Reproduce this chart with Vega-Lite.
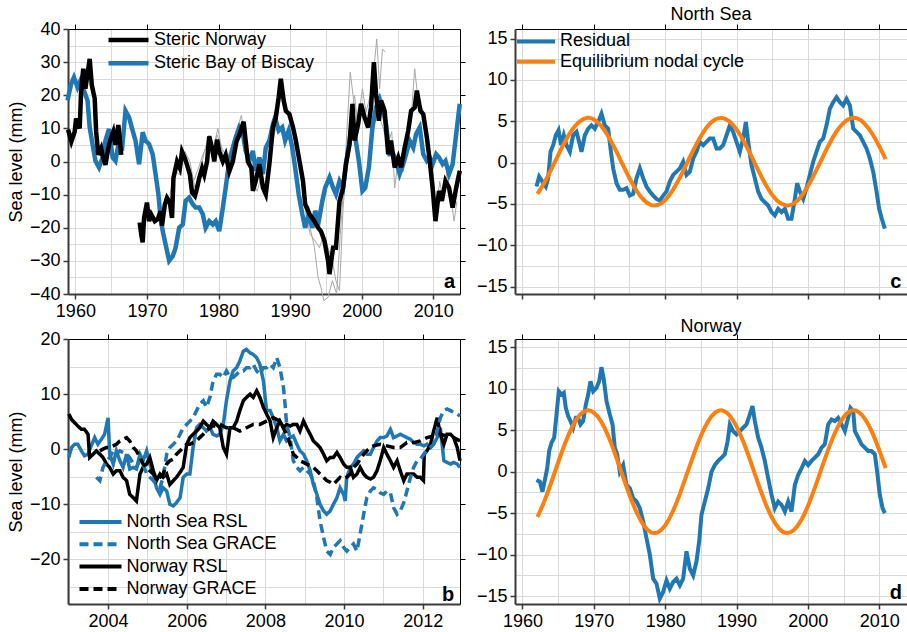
{
  "$schema": "https://vega.github.io/schema/vega-lite/v6.json",
  "padding": {"left": 7, "top": 5, "right": 0, "bottom": 0},
  "config": {
    "font": "Liberation Sans",
    "view": {"stroke": null},
    "axis": {
      "labelFont": "Liberation Sans", "labelFontSize": 18, "labelColor": "#000000",
      "titleFont": "Liberation Sans", "titleFontSize": 18, "titleFontWeight": "normal", "titleColor": "#000000",
      "gridColor": "#d9d9d9", "gridWidth": 1, "tickSize": 5, "labelFlush": false, "labelOverlap": false, "labelPadding": 3, "format": "d"
    },
    "title": {"font": "Liberation Sans", "fontSize": 18, "fontWeight": "normal", "color": "#000000", "offset": 0}
  },
  "concat": [
    {
      "width": 392, "height": 265,
      "layer": [
        {
          "data": {"name": "a_grey"},
          "mark": {"type": "line", "color": "#a8a8a8", "strokeWidth": 1},
          "encoding": {
            "x": {"field": "year", "type": "quantitative", "scale": {"domain": [1958.97, 2013.73], "nice": false, "zero": false},
              "axis": {"orient": "bottom", "values": [1960,1965,1970,1975,1980,1985,1990,1995,2000,2005,2010], "labelExpr": "datum.value % 10 === 0 ? datum.label : ''", "grid": true, "domainColor": "#3a3a3a", "domainWidth": 2, "tickColor": "#3a3a3a", "tickWidth": 1.5, "tickOpacity": {"condition": {"test": "datum.value % 10 !== 0", "value": 0}, "value": 1}, "title": null}},
            "y": {"field": "value", "type": "quantitative", "scale": {"domain": [-40, 40], "nice": false, "zero": false},
              "axis": {"orient": "left", "values": [-40,-35,-30,-25,-20,-15,-10,-5,0,5,10,15,20,25,30,35,40], "labelExpr": "datum.value % 10 === 0 ? datum.label : ''", "grid": true, "domainColor": "#3a3a3a", "domainWidth": 2, "tickColor": "#3a3a3a", "tickWidth": 1.5, "tickOpacity": {"condition": {"test": "datum.value % 10 !== 0", "value": 0}, "value": 1}, "title": "Sea level (mm)", "titlePadding": 4}},
            "detail": {"field": "id", "type": "nominal"}
          }
        },
        {
          "data": {"name": "a_main"},
          "mark": {"type": "line", "strokeWidth": 4.5},
          "encoding": {
            "x": {"field": "year", "type": "quantitative", "axis": {"orient": "top", "values": [1960,1970,1980,1990,2000,2010], "labels": false, "grid": false, "domainColor": "#000000", "domainWidth": 1, "tickColor": "#000000", "tickWidth": 1, "title": null}},
            "y": {"field": "value", "type": "quantitative", "axis": {"orient": "right", "values": [-30,-20,-10,0,10,20,30], "labels": false, "grid": false, "domainColor": "#000000", "domainWidth": 1, "tickColor": "#000000", "tickWidth": 1, "title": null}},
            "color": {"field": "series", "type": "nominal", "scale": {"domain": ["Steric Norway", "Steric Bay of Biscay"], "range": ["#000000", "#1f77b4"]},
              "legend": {"title": null, "orient": "none", "legendX": 38, "legendY": 0, "symbolType": "stroke", "symbolSize": 1600, "symbolStrokeWidth": 4.5, "labelFontSize": 18, "labelFont": "Liberation Sans", "labelColor": "#000000", "labelOffset": 3, "labelLimit": 400, "clipHeight": 22, "rowPadding": 1.3, "padding": 0}},
            "detail": {"field": "seg", "type": "nominal"}
          }
        },
        {
          "data": {"values": [{}]},
          "mark": {"type": "text", "text": "a", "fontWeight": "bold", "fontSize": 20, "align": "right", "baseline": "alphabetic", "color": "#000000"},
          "encoding": {"x": {"datum": 2013.05, "type": "quantitative", "axis": null}, "y": {"datum": -38.3, "type": "quantitative", "axis": null}}
        }
      ],
      "resolve": {"axis": {"x": "independent", "y": "independent"}}
    },
    {
      "width": 392, "height": 265,
      "title": {"text": "North Sea", "offset": 0},
      "layer": [
        {
          "data": {"name": "c_res"},
          "mark": {"type": "line", "strokeWidth": 4},
          "encoding": {
            "x": {"field": "year", "type": "quantitative", "scale": {"domain": [1958.95, 2013.9], "nice": false, "zero": false},
              "axis": {"orient": "bottom", "values": [1960,1965,1970,1975,1980,1985,1990,1995,2000,2005,2010], "labels": false, "grid": true, "domainColor": "#3a3a3a", "domainWidth": 2, "tickColor": "#3a3a3a", "tickWidth": 1.5, "tickOpacity": {"condition": {"test": "datum.value % 10 !== 0", "value": 0}, "value": 1}, "title": null}},
            "y": {"field": "value", "type": "quantitative", "scale": {"domain": [-15.9, 16.15], "nice": false, "zero": false},
              "axis": {"orient": "left", "values": [-15,-12.5,-10,-7.5,-5,-2.5,0,2.5,5,7.5,10,12.5,15], "labelExpr": "datum.value % 5 === 0 ? datum.label : ''", "grid": true, "domainColor": "#3a3a3a", "domainWidth": 2, "tickColor": "#3a3a3a", "tickWidth": 1.5, "tickOpacity": {"condition": {"test": "datum.value % 5 !== 0", "value": 0}, "value": 1}, "title": null}},
            "color": {"field": "series", "type": "nominal", "scale": {"domain": ["Residual", "Equilibrium nodal cycle"], "range": ["#1f77b4", "#ff7f0e"]},
              "legend": {"title": null, "orient": "none", "legendX": 0, "legendY": 2.4, "symbolType": "stroke", "symbolSize": 1444, "symbolStrokeWidth": 4, "labelFontSize": 18, "labelFont": "Liberation Sans", "labelColor": "#000000", "labelOffset": 3, "labelLimit": 400, "clipHeight": 20, "rowPadding": 0.3, "padding": 0}}
          }
        },
        {
          "data": {"name": "c_nod"},
          "mark": {"type": "line", "strokeWidth": 4, "interpolate": "natural"},
          "encoding": {
            "x": {"field": "year", "type": "quantitative", "axis": {"orient": "top", "values": [1960,1970,1980,1990,2000,2010], "labels": false, "grid": false, "domainColor": "#000000", "domainWidth": 1, "tickColor": "#000000", "tickWidth": 1, "title": null}},
            "y": {"field": "value", "type": "quantitative", "axis": {"orient": "right", "values": [-15,-10,-5,0,5,10,15], "labels": false, "grid": false, "domainColor": "#000000", "domainWidth": 1, "tickColor": "#000000", "tickWidth": 1, "title": null}},
            "color": {"field": "series", "type": "nominal"}
          }
        },
        {
          "data": {"values": [{}]},
          "mark": {"type": "text", "text": "c", "fontWeight": "bold", "fontSize": 20, "align": "right", "baseline": "alphabetic", "color": "#000000"},
          "encoding": {"x": {"datum": 2013.1, "type": "quantitative", "axis": null}, "y": {"datum": -15.15, "type": "quantitative", "axis": null}}
        }
      ],
      "resolve": {"axis": {"x": "independent", "y": "independent"}}
    },
    {
      "width": 392, "height": 265,
      "layer": [
        {
          "data": {"name": "b_rsl"},
          "mark": {"type": "line", "strokeWidth": 3.5},
          "encoding": {
            "x": {"field": "year", "type": "quantitative", "scale": {"domain": [2002.98, 2012.95], "nice": false, "zero": false},
              "axis": {"orient": "bottom", "values": [2003,2004,2005,2006,2007,2008,2009,2010,2011,2012], "labelExpr": "datum.value % 2 === 0 ? datum.label : ''", "grid": true, "domainColor": "#3a3a3a", "domainWidth": 2, "tickColor": "#3a3a3a", "tickWidth": 1.5, "tickOpacity": {"condition": {"test": "datum.value % 2 !== 0", "value": 0}, "value": 1}, "title": null}},
            "y": {"field": "value", "type": "quantitative", "scale": {"domain": [-28.1, 20], "nice": false, "zero": false},
              "axis": {"orient": "left", "values": [-25,-20,-15,-10,-5,0,5,10,15,20], "labelExpr": "datum.value % 10 === 0 ? datum.label : ''", "grid": true, "domainColor": "#3a3a3a", "domainWidth": 2, "tickColor": "#3a3a3a", "tickWidth": 1.5, "tickOpacity": {"condition": {"test": "datum.value % 10 !== 0", "value": 0}, "value": 1}, "title": "Sea level (mm)", "titlePadding": 4}},
            "color": {"field": "series", "type": "nominal", "scale": {"domain": ["North Sea RSL", "North Sea GRACE", "Norway RSL", "Norway GRACE"], "range": ["#1f77b4", "#1f77b4", "#000000", "#000000"]},
              "legend": {"title": null, "orient": "none", "legendX": 9.5, "legendY": 172, "symbolType": "stroke", "symbolSize": 1764, "symbolStrokeWidth": 4, "labelFontSize": 18, "labelFont": "Liberation Sans", "labelColor": "#000000", "labelOffset": 3, "labelLimit": 400, "clipHeight": 22, "rowPadding": 0.3, "padding": 0}},
            "strokeDash": {"field": "series", "type": "nominal", "scale": {"domain": ["North Sea RSL", "North Sea GRACE", "Norway RSL", "Norway GRACE"], "range": [[1, 0], [9, 5], [1, 0], [9, 5]]},
              "legend": {"title": null, "orient": "none", "legendX": 9.5, "legendY": 172, "symbolType": "stroke", "symbolSize": 1764, "symbolStrokeWidth": 4, "labelFontSize": 18, "labelFont": "Liberation Sans", "labelColor": "#000000", "labelOffset": 3, "labelLimit": 400, "clipHeight": 22, "rowPadding": 0.3, "padding": 0}}
          }
        },
        {
          "data": {"name": "b_grace"},
          "mark": {"type": "line", "strokeWidth": 3.5},
          "encoding": {
            "x": {"field": "year", "type": "quantitative", "axis": {"orient": "top", "values": [2004,2006,2008,2010,2012], "labels": false, "grid": false, "domainColor": "#000000", "domainWidth": 1, "tickColor": "#000000", "tickWidth": 1, "title": null}},
            "y": {"field": "value", "type": "quantitative", "axis": {"orient": "right", "values": [-20,-10,0,10,20], "labels": false, "grid": false, "domainColor": "#000000", "domainWidth": 1, "tickColor": "#000000", "tickWidth": 1, "title": null}},
            "color": {"field": "series", "type": "nominal"},
            "strokeDash": {"field": "series", "type": "nominal"}
          }
        },
        {
          "data": {"values": [{}]},
          "mark": {"type": "text", "text": "b", "fontWeight": "bold", "fontSize": 20, "align": "right", "baseline": "alphabetic", "color": "#000000"},
          "encoding": {"x": {"datum": 2012.8, "type": "quantitative", "axis": null}, "y": {"datum": -27.5, "type": "quantitative", "axis": null}}
        }
      ],
      "resolve": {"axis": {"x": "independent", "y": "independent"}}
    },
    {
      "width": 392, "height": 265,
      "title": {"text": "Norway", "offset": -2},
      "layer": [
        {
          "data": {"name": "d_res"},
          "mark": {"type": "line", "strokeWidth": 4},
          "encoding": {
            "x": {"field": "year", "type": "quantitative", "scale": {"domain": [1958.95, 2013.9], "nice": false, "zero": false},
              "axis": {"orient": "bottom", "values": [1960,1965,1970,1975,1980,1985,1990,1995,2000,2005,2010], "labelExpr": "datum.value % 10 === 0 ? datum.label : ''", "grid": true, "domainColor": "#3a3a3a", "domainWidth": 2, "tickColor": "#3a3a3a", "tickWidth": 1.5, "tickOpacity": {"condition": {"test": "datum.value % 10 !== 0", "value": 0}, "value": 1}, "title": null}},
            "y": {"field": "value", "type": "quantitative", "scale": {"domain": [-15.95, 16.0], "nice": false, "zero": false},
              "axis": {"orient": "left", "values": [-15,-12.5,-10,-7.5,-5,-2.5,0,2.5,5,7.5,10,12.5,15], "labelExpr": "datum.value % 5 === 0 ? datum.label : ''", "grid": true, "domainColor": "#3a3a3a", "domainWidth": 2, "tickColor": "#3a3a3a", "tickWidth": 1.5, "tickOpacity": {"condition": {"test": "datum.value % 5 !== 0", "value": 0}, "value": 1}, "title": null}},
            "color": {"field": "series", "type": "nominal", "scale": {"domain": ["Residual", "Equilibrium nodal cycle"], "range": ["#1f77b4", "#ff7f0e"]}, "legend": null}
          }
        },
        {
          "data": {"name": "d_nod"},
          "mark": {"type": "line", "strokeWidth": 4, "interpolate": "natural"},
          "encoding": {
            "x": {"field": "year", "type": "quantitative", "axis": {"orient": "top", "values": [1960,1970,1980,1990,2000,2010], "labels": false, "grid": false, "domainColor": "#000000", "domainWidth": 1, "tickColor": "#000000", "tickWidth": 1, "title": null}},
            "y": {"field": "value", "type": "quantitative", "axis": {"orient": "right", "values": [-15,-10,-5,0,5,10,15], "labels": false, "grid": false, "domainColor": "#000000", "domainWidth": 1, "tickColor": "#000000", "tickWidth": 1, "title": null}},
            "color": {"field": "series", "type": "nominal", "legend": null}
          }
        },
        {
          "data": {"values": [{}]},
          "mark": {"type": "text", "text": "d", "fontWeight": "bold", "fontSize": 20, "align": "right", "baseline": "alphabetic", "color": "#000000"},
          "encoding": {"x": {"datum": 2013.2, "type": "quantitative", "axis": null}, "y": {"datum": -15.3, "type": "quantitative", "axis": null}}
        }
      ],
      "resolve": {"axis": {"x": "independent", "y": "independent"}}
    }
  ],
  "columns": 2,
  "spacing": {"row": 45, "column": 55},
  "bounds": "flush",
  "resolve": {"scale": {"color": "independent", "strokeDash": "independent"}, "legend": {"color": "independent", "strokeDash": "independent"}},
  "datasets": {
    "a_grey": [
      {"year":1973.2,"value":-12,"id":"A"},{"year":1973.8,"value":-5,"id":"A"},{"year":1974.5,"value":-1,"id":"A"},{"year":1975.2,"value":2,"id":"A"},{"year":1975.8,"value":-3,"id":"A"},{"year":1976.5,"value":-6,"id":"A"},{"year":1977.2,"value":-2,"id":"A"},{"year":1977.8,"value":2,"id":"A"},{"year":1978.5,"value":5,"id":"A"},{"year":1979.2,"value":3,"id":"A"},{"year":1979.8,"value":8,"id":"A"},{"year":1980.5,"value":4,"id":"A"},{"year":1981.2,"value":1,"id":"A"},{"year":1981.8,"value":4,"id":"A"},{"year":1982.5,"value":9,"id":"A"},{"year":1983.2,"value":14,"id":"A"},{"year":1983.8,"value":5,"id":"A"},{"year":1984.5,"value":-2,"id":"A"},{"year":1985.2,"value":-6,"id":"A"},{"year":1985.8,"value":-2,"id":"A"},{"year":1986.5,"value":-9,"id":"A"},{"year":1987.2,"value":2,"id":"A"},{"year":1987.8,"value":12,"id":"A"},{"year":1988.5,"value":18,"id":"A"},{"year":1989.0,"value":22,"id":"A"},{"year":1989.5,"value":16,"id":"A"},{"year":1990.2,"value":12,"id":"A"},{"year":1990.8,"value":7,"id":"A"},{"year":1991.5,"value":-2,"id":"A"},{"year":1992.2,"value":-12,"id":"A"},{"year":1992.8,"value":-20,"id":"A"},{"year":1993.4,"value":-26,"id":"A"},{"year":1993.9,"value":-35,"id":"A"},{"year":1994.3,"value":-38,"id":"A"},{"year":1994.7,"value":-42,"id":"A"},{"year":1995.3,"value":-41,"id":"A"},{"year":1995.9,"value":-36,"id":"A"},{"year":1996.5,"value":-40,"id":"A"},{"year":1997.0,"value":-22,"id":"A"},{"year":1997.6,"value":-4,"id":"A"},{"year":1998.0,"value":12,"id":"A"},{"year":1998.4,"value":27,"id":"A"},{"year":1998.9,"value":18,"id":"A"},{"year":1999.5,"value":12,"id":"A"},{"year":2000.1,"value":22,"id":"A"},{"year":2000.6,"value":15,"id":"A"},{"year":2001.2,"value":20,"id":"A"},{"year":2001.7,"value":28,"id":"A"},{"year":2002.1,"value":37,"id":"A"},{"year":2002.5,"value":22,"id":"A"},{"year":2002.9,"value":34,"id":"A"},{"year":2003.3,"value":33,"id":"A"},
      {"year":1973.2,"value":-10,"id":"B"},{"year":1973.9,"value":-3,"id":"B"},{"year":1974.6,"value":-4,"id":"B"},{"year":1975.3,"value":3,"id":"B"},{"year":1976.0,"value":0,"id":"B"},{"year":1976.7,"value":-8,"id":"B"},{"year":1977.4,"value":-4,"id":"B"},{"year":1978.0,"value":3,"id":"B"},{"year":1978.7,"value":8,"id":"B"},{"year":1979.3,"value":4,"id":"B"},{"year":1979.9,"value":10,"id":"B"},{"year":1980.6,"value":2,"id":"B"},{"year":1981.3,"value":0,"id":"B"},{"year":1982.0,"value":6,"id":"B"},{"year":1982.7,"value":11,"id":"B"},{"year":1983.4,"value":10,"id":"B"},{"year":1984.0,"value":2,"id":"B"},{"year":1984.7,"value":-6,"id":"B"},{"year":1985.4,"value":-9,"id":"B"},{"year":1986.0,"value":-4,"id":"B"},{"year":1986.7,"value":-10,"id":"B"},{"year":1987.3,"value":4,"id":"B"},{"year":1988.0,"value":10,"id":"B"},{"year":1988.6,"value":25,"id":"B"},{"year":1989.2,"value":17,"id":"B"},{"year":1989.8,"value":13,"id":"B"},{"year":1990.4,"value":9,"id":"B"},{"year":1991.0,"value":4,"id":"B"},{"year":1991.6,"value":-6,"id":"B"},{"year":1992.2,"value":-16,"id":"B"},{"year":1992.8,"value":-22,"id":"B"},{"year":1993.5,"value":-24,"id":"B"},{"year":1994.1,"value":-26,"id":"B"},{"year":1994.7,"value":-22,"id":"B"},{"year":1995.3,"value":-26,"id":"B"},{"year":1995.9,"value":-30,"id":"B"},{"year":1996.4,"value":-36,"id":"B"},{"year":1996.9,"value":-39,"id":"B"},{"year":1997.4,"value":-14,"id":"B"},{"year":1998.0,"value":3,"id":"B"},{"year":1998.5,"value":14,"id":"B"},{"year":1999.0,"value":20,"id":"B"},{"year":1999.5,"value":10,"id":"B"},{"year":2000.0,"value":16,"id":"B"},{"year":2000.6,"value":12,"id":"B"},{"year":2001.2,"value":14,"id":"B"},{"year":2001.8,"value":26,"id":"B"},{"year":2002.4,"value":14,"id":"B"},{"year":2003.0,"value":10,"id":"B"},{"year":2003.6,"value":5,"id":"B"},{"year":2004.2,"value":9,"id":"B"},{"year":2004.6,"value":-8,"id":"B"},{"year":2005.2,"value":2,"id":"B"},{"year":2005.8,"value":-3,"id":"B"},{"year":2006.4,"value":8,"id":"B"},{"year":2007.0,"value":16,"id":"B"},{"year":2007.4,"value":28,"id":"B"},{"year":2007.9,"value":18,"id":"B"},{"year":2008.5,"value":16,"id":"B"},{"year":2009.0,"value":8,"id":"B"},{"year":2009.5,"value":2,"id":"B"},{"year":2010.0,"value":-4,"id":"B"},{"year":2010.4,"value":-14,"id":"B"},{"year":2010.9,"value":-6,"id":"B"},{"year":2011.4,"value":-12,"id":"B"},{"year":2011.9,"value":-3,"id":"B"},{"year":2012.4,"value":-10,"id":"B"},{"year":2012.9,"value":-18,"id":"B"},{"year":2013.3,"value":-12,"id":"B"}
    ],
    "a_main": [
      {"year":1958.9,"value":18.4,"series":"Steric Bay of Biscay","seg":1},{"year":1959.4,"value":23.4,"series":"Steric Bay of Biscay","seg":1},{"year":1959.8,"value":25.4,"series":"Steric Bay of Biscay","seg":1},{"year":1960.3,"value":22.4,"series":"Steric Bay of Biscay","seg":1},{"year":1960.7,"value":24.4,"series":"Steric Bay of Biscay","seg":1},{"year":1961.2,"value":21.4,"series":"Steric Bay of Biscay","seg":1},{"year":1961.7,"value":18.4,"series":"Steric Bay of Biscay","seg":1},{"year":1962.0,"value":10.3,"series":"Steric Bay of Biscay","seg":1},{"year":1962.4,"value":5.2,"series":"Steric Bay of Biscay","seg":1},{"year":1962.8,"value":0.2,"series":"Steric Bay of Biscay","seg":1},{"year":1963.3,"value":-1.8,"series":"Steric Bay of Biscay","seg":1},{"year":1963.8,"value":1.2,"series":"Steric Bay of Biscay","seg":1},{"year":1964.2,"value":6.3,"series":"Steric Bay of Biscay","seg":1},{"year":1964.7,"value":9.8,"series":"Steric Bay of Biscay","seg":1},{"year":1965.2,"value":1.2,"series":"Steric Bay of Biscay","seg":1},{"year":1965.6,"value":0.2,"series":"Steric Bay of Biscay","seg":1},{"year":1966.1,"value":6.3,"series":"Steric Bay of Biscay","seg":1},{"year":1966.5,"value":3.2,"series":"Steric Bay of Biscay","seg":1},{"year":1967.0,"value":15.3,"series":"Steric Bay of Biscay","seg":1},{"year":1967.5,"value":13.3,"series":"Steric Bay of Biscay","seg":1},{"year":1968.0,"value":9.3,"series":"Steric Bay of Biscay","seg":1},{"year":1968.4,"value":6.3,"series":"Steric Bay of Biscay","seg":1},{"year":1968.9,"value":-0.8,"series":"Steric Bay of Biscay","seg":1},{"year":1969.4,"value":8.8,"series":"Steric Bay of Biscay","seg":1},{"year":1969.8,"value":6.3,"series":"Steric Bay of Biscay","seg":1},{"year":1970.3,"value":5.2,"series":"Steric Bay of Biscay","seg":1},{"year":1970.8,"value":2.2,"series":"Steric Bay of Biscay","seg":1},{"year":1971.2,"value":-3.8,"series":"Steric Bay of Biscay","seg":1},{"year":1971.6,"value":-9.9,"series":"Steric Bay of Biscay","seg":1},{"year":1971.9,"value":-17,"series":"Steric Bay of Biscay","seg":1},{"year":1972.2,"value":-21,"series":"Steric Bay of Biscay","seg":1},{"year":1972.6,"value":-25,"series":"Steric Bay of Biscay","seg":1},{"year":1973.1,"value":-30,"series":"Steric Bay of Biscay","seg":1},{"year":1973.6,"value":-28.6,"series":"Steric Bay of Biscay","seg":1},{"year":1974.0,"value":-26,"series":"Steric Bay of Biscay","seg":1},{"year":1974.5,"value":-20,"series":"Steric Bay of Biscay","seg":1},{"year":1975.0,"value":-19,"series":"Steric Bay of Biscay","seg":1},{"year":1975.4,"value":-11.9,"series":"Steric Bay of Biscay","seg":1},{"year":1975.9,"value":-10.9,"series":"Steric Bay of Biscay","seg":1},{"year":1976.4,"value":-12.9,"series":"Steric Bay of Biscay","seg":1},{"year":1976.8,"value":-13.9,"series":"Steric Bay of Biscay","seg":1},{"year":1977.3,"value":-13.9,"series":"Steric Bay of Biscay","seg":1},{"year":1977.8,"value":-15.9,"series":"Steric Bay of Biscay","seg":1},{"year":1978.2,"value":-20,"series":"Steric Bay of Biscay","seg":1},{"year":1978.7,"value":-18,"series":"Steric Bay of Biscay","seg":1},{"year":1979.2,"value":-19,"series":"Steric Bay of Biscay","seg":1},{"year":1979.6,"value":-18,"series":"Steric Bay of Biscay","seg":1},{"year":1980.1,"value":-21,"series":"Steric Bay of Biscay","seg":1},{"year":1980.6,"value":-13.9,"series":"Steric Bay of Biscay","seg":1},{"year":1981.0,"value":-7.9,"series":"Steric Bay of Biscay","seg":1},{"year":1981.5,"value":0.2,"series":"Steric Bay of Biscay","seg":1},{"year":1982.0,"value":4.2,"series":"Steric Bay of Biscay","seg":1},{"year":1982.4,"value":7.3,"series":"Steric Bay of Biscay","seg":1},{"year":1982.9,"value":10.3,"series":"Steric Bay of Biscay","seg":1},{"year":1983.4,"value":8.3,"series":"Steric Bay of Biscay","seg":1},{"year":1983.8,"value":3.2,"series":"Steric Bay of Biscay","seg":1},{"year":1984.3,"value":0.2,"series":"Steric Bay of Biscay","seg":1},{"year":1984.8,"value":3.2,"series":"Steric Bay of Biscay","seg":1},{"year":1985.2,"value":-2.8,"series":"Steric Bay of Biscay","seg":1},{"year":1985.7,"value":1.2,"series":"Steric Bay of Biscay","seg":1},{"year":1986.2,"value":-3.8,"series":"Steric Bay of Biscay","seg":1},{"year":1986.6,"value":4.2,"series":"Steric Bay of Biscay","seg":1},{"year":1987.1,"value":6.3,"series":"Steric Bay of Biscay","seg":1},{"year":1987.6,"value":11.3,"series":"Steric Bay of Biscay","seg":1},{"year":1987.9,"value":13.3,"series":"Steric Bay of Biscay","seg":1},{"year":1988.4,"value":9.3,"series":"Steric Bay of Biscay","seg":1},{"year":1988.9,"value":10.3,"series":"Steric Bay of Biscay","seg":1},{"year":1989.3,"value":6.3,"series":"Steric Bay of Biscay","seg":1},{"year":1989.8,"value":9.3,"series":"Steric Bay of Biscay","seg":1},{"year":1990.3,"value":4.2,"series":"Steric Bay of Biscay","seg":1},{"year":1990.7,"value":-1.8,"series":"Steric Bay of Biscay","seg":1},{"year":1991.2,"value":-9.9,"series":"Steric Bay of Biscay","seg":1},{"year":1991.7,"value":-15.9,"series":"Steric Bay of Biscay","seg":1},{"year":1992.1,"value":-20,"series":"Steric Bay of Biscay","seg":1},{"year":1992.6,"value":-15.9,"series":"Steric Bay of Biscay","seg":1},{"year":1993.1,"value":-20,"series":"Steric Bay of Biscay","seg":1},{"year":1993.5,"value":-14.9,"series":"Steric Bay of Biscay","seg":1},{"year":1994.0,"value":-18,"series":"Steric Bay of Biscay","seg":1},{"year":1994.5,"value":-11.9,"series":"Steric Bay of Biscay","seg":1},{"year":1994.9,"value":-7.9,"series":"Steric Bay of Biscay","seg":1},{"year":1995.5,"value":-4.8,"series":"Steric Bay of Biscay","seg":1},{"year":1996.0,"value":-7.9,"series":"Steric Bay of Biscay","seg":1},{"year":1996.4,"value":-9.9,"series":"Steric Bay of Biscay","seg":1},{"year":1996.9,"value":-5.9,"series":"Steric Bay of Biscay","seg":1},{"year":1997.4,"value":-7.9,"series":"Steric Bay of Biscay","seg":1},{"year":1997.8,"value":-0.8,"series":"Steric Bay of Biscay","seg":1},{"year":1998.3,"value":6.3,"series":"Steric Bay of Biscay","seg":1},{"year":1998.7,"value":12.3,"series":"Steric Bay of Biscay","seg":1},{"year":1999.1,"value":7.3,"series":"Steric Bay of Biscay","seg":1},{"year":1999.6,"value":0.2,"series":"Steric Bay of Biscay","seg":1},{"year":2000.1,"value":-8.9,"series":"Steric Bay of Biscay","seg":1},{"year":2000.5,"value":-7.9,"series":"Steric Bay of Biscay","seg":1},{"year":2001.0,"value":-1.8,"series":"Steric Bay of Biscay","seg":1},{"year":2001.5,"value":10.3,"series":"Steric Bay of Biscay","seg":1},{"year":2002.0,"value":16.3,"series":"Steric Bay of Biscay","seg":1},{"year":2002.5,"value":18.9,"series":"Steric Bay of Biscay","seg":1},{"year":2003.0,"value":15.3,"series":"Steric Bay of Biscay","seg":1},{"year":2003.4,"value":11.3,"series":"Steric Bay of Biscay","seg":1},{"year":2003.9,"value":2.2,"series":"Steric Bay of Biscay","seg":1},{"year":2004.4,"value":2.2,"series":"Steric Bay of Biscay","seg":1},{"year":2004.8,"value":0.2,"series":"Steric Bay of Biscay","seg":1},{"year":2005.3,"value":-3.8,"series":"Steric Bay of Biscay","seg":1},{"year":2005.8,"value":-0.8,"series":"Steric Bay of Biscay","seg":1},{"year":2006.2,"value":2.2,"series":"Steric Bay of Biscay","seg":1},{"year":2006.7,"value":6.3,"series":"Steric Bay of Biscay","seg":1},{"year":2007.2,"value":4.2,"series":"Steric Bay of Biscay","seg":1},{"year":2007.6,"value":8.3,"series":"Steric Bay of Biscay","seg":1},{"year":2008.1,"value":10.3,"series":"Steric Bay of Biscay","seg":1},{"year":2008.6,"value":2.2,"series":"Steric Bay of Biscay","seg":1},{"year":2009.1,"value":0.2,"series":"Steric Bay of Biscay","seg":1},{"year":2009.5,"value":1.2,"series":"Steric Bay of Biscay","seg":1},{"year":2009.9,"value":-0.8,"series":"Steric Bay of Biscay","seg":1},{"year":2010.4,"value":2.2,"series":"Steric Bay of Biscay","seg":1},{"year":2010.8,"value":1.2,"series":"Steric Bay of Biscay","seg":1},{"year":2011.3,"value":-0.8,"series":"Steric Bay of Biscay","seg":1},{"year":2011.7,"value":0.2,"series":"Steric Bay of Biscay","seg":1},{"year":2012.2,"value":-3.8,"series":"Steric Bay of Biscay","seg":1},{"year":2012.7,"value":-0.8,"series":"Steric Bay of Biscay","seg":1},{"year":2013.2,"value":8.3,"series":"Steric Bay of Biscay","seg":1},{"year":2013.7,"value":17.4,"series":"Steric Bay of Biscay","seg":1},
      {"year":1958.98,"value":9.6,"series":"Steric Norway","seg":1},{"year":1959.44,"value":6,"series":"Steric Norway","seg":1},{"year":1959.9,"value":9,"series":"Steric Norway","seg":1},{"year":1960.1,"value":13,"series":"Steric Norway","seg":1},{"year":1960.6,"value":10,"series":"Steric Norway","seg":1},{"year":1960.8,"value":21,"series":"Steric Norway","seg":1},{"year":1961.1,"value":28,"series":"Steric Norway","seg":1},{"year":1961.4,"value":22,"series":"Steric Norway","seg":1},{"year":1962.0,"value":31,"series":"Steric Norway","seg":1},{"year":1962.3,"value":23,"series":"Steric Norway","seg":1},{"year":1962.7,"value":19,"series":"Steric Norway","seg":1},{"year":1962.9,"value":9,"series":"Steric Norway","seg":1},{"year":1963.2,"value":2,"series":"Steric Norway","seg":1},{"year":1963.6,"value":4,"series":"Steric Norway","seg":1},{"year":1963.9,"value":1,"series":"Steric Norway","seg":1},{"year":1964.2,"value":-1,"series":"Steric Norway","seg":1},{"year":1964.6,"value":4,"series":"Steric Norway","seg":1},{"year":1964.8,"value":6,"series":"Steric Norway","seg":1},{"year":1965.3,"value":9,"series":"Steric Norway","seg":1},{"year":1965.6,"value":5,"series":"Steric Norway","seg":1},{"year":1966.0,"value":11,"series":"Steric Norway","seg":1},{"year":1966.2,"value":7,"series":"Steric Norway","seg":1},{"year":1966.4,"value":2,"series":"Steric Norway","seg":1},
      {"year":1968.98,"value":-18.4,"series":"Steric Norway","seg":2},{"year":1969.2,"value":-22,"series":"Steric Norway","seg":2},{"year":1969.4,"value":-24.4,"series":"Steric Norway","seg":2},{"year":1969.6,"value":-17,"series":"Steric Norway","seg":2},{"year":1970.0,"value":-12.4,"series":"Steric Norway","seg":2},{"year":1970.3,"value":-18,"series":"Steric Norway","seg":2},{"year":1970.6,"value":-16,"series":"Steric Norway","seg":2},{"year":1971.1,"value":-18,"series":"Steric Norway","seg":2},{"year":1971.5,"value":-17.4,"series":"Steric Norway","seg":2},{"year":1971.9,"value":-15,"series":"Steric Norway","seg":2},{"year":1972.1,"value":-19.4,"series":"Steric Norway","seg":2},{"year":1972.5,"value":-13,"series":"Steric Norway","seg":2},{"year":1972.8,"value":-11,"series":"Steric Norway","seg":2},{"year":1973.2,"value":-12.4,"series":"Steric Norway","seg":2},{"year":1973.5,"value":-17,"series":"Steric Norway","seg":2},{"year":1973.7,"value":-5,"series":"Steric Norway","seg":2},{"year":1974.2,"value":0,"series":"Steric Norway","seg":2},{"year":1974.6,"value":-2,"series":"Steric Norway","seg":2},{"year":1974.9,"value":3,"series":"Steric Norway","seg":2},{"year":1975.3,"value":1,"series":"Steric Norway","seg":2},{"year":1975.6,"value":-1,"series":"Steric Norway","seg":2},{"year":1976.0,"value":-4,"series":"Steric Norway","seg":2},{"year":1976.3,"value":-9.4,"series":"Steric Norway","seg":2},{"year":1976.7,"value":-10.4,"series":"Steric Norway","seg":2},{"year":1977.0,"value":-8,"series":"Steric Norway","seg":2},{"year":1977.3,"value":-5,"series":"Steric Norway","seg":2},{"year":1977.7,"value":-2,"series":"Steric Norway","seg":2},{"year":1978.0,"value":-4,"series":"Steric Norway","seg":2},{"year":1978.4,"value":0,"series":"Steric Norway","seg":2},{"year":1978.7,"value":7.6,"series":"Steric Norway","seg":2},{"year":1979.1,"value":4,"series":"Steric Norway","seg":2},{"year":1979.4,"value":0,"series":"Steric Norway","seg":2},{"year":1979.8,"value":6.6,"series":"Steric Norway","seg":2},{"year":1980.1,"value":3,"series":"Steric Norway","seg":2},{"year":1980.6,"value":0,"series":"Steric Norway","seg":2},{"year":1981.0,"value":2,"series":"Steric Norway","seg":2},{"year":1981.5,"value":-3,"series":"Steric Norway","seg":2},{"year":1982.0,"value":0,"series":"Steric Norway","seg":2},{"year":1982.5,"value":6,"series":"Steric Norway","seg":2},{"year":1982.9,"value":8,"series":"Steric Norway","seg":2},{"year":1983.5,"value":12,"series":"Steric Norway","seg":2},{"year":1984.1,"value":0,"series":"Steric Norway","seg":2},{"year":1984.6,"value":-2,"series":"Steric Norway","seg":2},{"year":1984.8,"value":-8.9,"series":"Steric Norway","seg":2},{"year":1985.2,"value":-5.9,"series":"Steric Norway","seg":2},{"year":1985.7,"value":-0.8,"series":"Steric Norway","seg":2},{"year":1986.2,"value":-7.9,"series":"Steric Norway","seg":2},{"year":1986.6,"value":-9.9,"series":"Steric Norway","seg":2},{"year":1987.1,"value":-0.8,"series":"Steric Norway","seg":2},{"year":1987.6,"value":10.3,"series":"Steric Norway","seg":2},{"year":1988.0,"value":13.3,"series":"Steric Norway","seg":2},{"year":1988.4,"value":19.4,"series":"Steric Norway","seg":2},{"year":1988.7,"value":25,"series":"Steric Norway","seg":2},{"year":1989.1,"value":18.4,"series":"Steric Norway","seg":2},{"year":1989.4,"value":15.3,"series":"Steric Norway","seg":2},{"year":1989.9,"value":14.3,"series":"Steric Norway","seg":2},{"year":1990.4,"value":10.3,"series":"Steric Norway","seg":2},{"year":1990.8,"value":6.3,"series":"Steric Norway","seg":2},{"year":1991.3,"value":0.2,"series":"Steric Norway","seg":2},{"year":1991.8,"value":-5.9,"series":"Steric Norway","seg":2},{"year":1992.1,"value":-12.9,"series":"Steric Norway","seg":2},{"year":1992.7,"value":-15.9,"series":"Steric Norway","seg":2},{"year":1993.4,"value":-18,"series":"Steric Norway","seg":2},{"year":1993.9,"value":-20,"series":"Steric Norway","seg":2},{"year":1994.3,"value":-21,"series":"Steric Norway","seg":2},{"year":1994.8,"value":-24,"series":"Steric Norway","seg":2},{"year":1995.3,"value":-30,"series":"Steric Norway","seg":2},{"year":1995.5,"value":-34,"series":"Steric Norway","seg":2},{"year":1996.0,"value":-26,"series":"Steric Norway","seg":2},{"year":1996.4,"value":-26,"series":"Steric Norway","seg":2},{"year":1996.9,"value":-12,"series":"Steric Norway","seg":2},{"year":1997.4,"value":-7.9,"series":"Steric Norway","seg":2},{"year":1997.8,"value":-0.8,"series":"Steric Norway","seg":2},{"year":1998.3,"value":5.2,"series":"Steric Norway","seg":2},{"year":1998.7,"value":17.4,"series":"Steric Norway","seg":2},{"year":1999.0,"value":6.3,"series":"Steric Norway","seg":2},{"year":1999.5,"value":11.3,"series":"Steric Norway","seg":2},{"year":1999.9,"value":17.4,"series":"Steric Norway","seg":2},{"year":2000.4,"value":13.3,"series":"Steric Norway","seg":2},{"year":2000.9,"value":10.3,"series":"Steric Norway","seg":2},{"year":2001.3,"value":16.3,"series":"Steric Norway","seg":2},{"year":2001.7,"value":30,"series":"Steric Norway","seg":2},{"year":2002.0,"value":20.4,"series":"Steric Norway","seg":2},{"year":2002.4,"value":12.3,"series":"Steric Norway","seg":2},{"year":2002.7,"value":18.4,"series":"Steric Norway","seg":2},{"year":2003.2,"value":15.3,"series":"Steric Norway","seg":2},{"year":2003.7,"value":2.2,"series":"Steric Norway","seg":2},{"year":2004.1,"value":6.3,"series":"Steric Norway","seg":2},{"year":2004.6,"value":-1.8,"series":"Steric Norway","seg":2},{"year":2005.1,"value":1.2,"series":"Steric Norway","seg":2},{"year":2005.5,"value":-1.8,"series":"Steric Norway","seg":2},{"year":2006.0,"value":4.2,"series":"Steric Norway","seg":2},{"year":2006.5,"value":9.3,"series":"Steric Norway","seg":2},{"year":2006.9,"value":15.3,"series":"Steric Norway","seg":2},{"year":2007.4,"value":16.3,"series":"Steric Norway","seg":2},{"year":2007.7,"value":21.4,"series":"Steric Norway","seg":2},{"year":2008.2,"value":15.3,"series":"Steric Norway","seg":2},{"year":2008.6,"value":14.3,"series":"Steric Norway","seg":2},{"year":2009.1,"value":7.3,"series":"Steric Norway","seg":2},{"year":2009.5,"value":0.2,"series":"Steric Norway","seg":2},{"year":2009.9,"value":-7.9,"series":"Steric Norway","seg":2},{"year":2010.3,"value":-18,"series":"Steric Norway","seg":2},{"year":2010.8,"value":-8.9,"series":"Steric Norway","seg":2},{"year":2011.2,"value":-11.9,"series":"Steric Norway","seg":2},{"year":2011.7,"value":-5.9,"series":"Steric Norway","seg":2},{"year":2012.2,"value":-7.9,"series":"Steric Norway","seg":2},{"year":2012.7,"value":-13.9,"series":"Steric Norway","seg":2},{"year":2013.2,"value":-7.9,"series":"Steric Norway","seg":2},{"year":2013.7,"value":-2.8,"series":"Steric Norway","seg":2}
    ],
    "b_rsl": [
      {"year":2003.0,"value":-1.5,"series":"North Sea RSL"},{"year":2003.07,"value":0.3,"series":"North Sea RSL"},{"year":2003.15,"value":0.9,"series":"North Sea RSL"},{"year":2003.23,"value":0.9,"series":"North Sea RSL"},{"year":2003.32,"value":-0.3,"series":"North Sea RSL"},{"year":2003.4,"value":-1.2,"series":"North Sea RSL"},{"year":2003.49,"value":-0.9,"series":"North Sea RSL"},{"year":2003.57,"value":0.6,"series":"North Sea RSL"},{"year":2003.66,"value":2.1,"series":"North Sea RSL"},{"year":2003.74,"value":0.9,"series":"North Sea RSL"},{"year":2003.83,"value":1.8,"series":"North Sea RSL"},{"year":2003.91,"value":2.7,"series":"North Sea RSL"},{"year":2004.0,"value":5.7,"series":"North Sea RSL"},{"year":2004.04,"value":-0.9,"series":"North Sea RSL"},{"year":2004.13,"value":-2.7,"series":"North Sea RSL"},{"year":2004.21,"value":-0.3,"series":"North Sea RSL"},{"year":2004.3,"value":-2.1,"series":"North Sea RSL"},{"year":2004.38,"value":-3.3,"series":"North Sea RSL"},{"year":2004.47,"value":-0.9,"series":"North Sea RSL"},{"year":2004.55,"value":-3.6,"series":"North Sea RSL"},{"year":2004.64,"value":-3.3,"series":"North Sea RSL"},{"year":2004.72,"value":-3.6,"series":"North Sea RSL"},{"year":2004.81,"value":-0.9,"series":"North Sea RSL"},{"year":2004.89,"value":-2.1,"series":"North Sea RSL"},{"year":2004.98,"value":-0.3,"series":"North Sea RSL"},{"year":2005.06,"value":-2.7,"series":"North Sea RSL"},{"year":2005.15,"value":-4.5,"series":"North Sea RSL"},{"year":2005.23,"value":-7,"series":"North Sea RSL"},{"year":2005.32,"value":-8.2,"series":"North Sea RSL"},{"year":2005.4,"value":-7,"series":"North Sea RSL"},{"year":2005.49,"value":-7.6,"series":"North Sea RSL"},{"year":2005.57,"value":-10,"series":"North Sea RSL"},{"year":2005.66,"value":-10.3,"series":"North Sea RSL"},{"year":2005.74,"value":-9.7,"series":"North Sea RSL"},{"year":2005.83,"value":-8.8,"series":"North Sea RSL"},{"year":2005.91,"value":-5.1,"series":"North Sea RSL"},{"year":2006.0,"value":-4.5,"series":"North Sea RSL"},{"year":2006.08,"value":-4.5,"series":"North Sea RSL"},{"year":2006.16,"value":0.3,"series":"North Sea RSL"},{"year":2006.25,"value":3.9,"series":"North Sea RSL"},{"year":2006.33,"value":4.5,"series":"North Sea RSL"},{"year":2006.42,"value":3.9,"series":"North Sea RSL"},{"year":2006.5,"value":3.3,"series":"North Sea RSL"},{"year":2006.59,"value":3.9,"series":"North Sea RSL"},{"year":2006.67,"value":2.7,"series":"North Sea RSL"},{"year":2006.76,"value":2.4,"series":"North Sea RSL"},{"year":2006.84,"value":2.7,"series":"North Sea RSL"},{"year":2006.93,"value":4.5,"series":"North Sea RSL"},{"year":2007.01,"value":8.8,"series":"North Sea RSL"},{"year":2007.1,"value":12.4,"series":"North Sea RSL"},{"year":2007.18,"value":14.2,"series":"North Sea RSL"},{"year":2007.27,"value":14.8,"series":"North Sea RSL"},{"year":2007.35,"value":16,"series":"North Sea RSL"},{"year":2007.44,"value":17.8,"series":"North Sea RSL"},{"year":2007.52,"value":18.1,"series":"North Sea RSL"},{"year":2007.61,"value":17.5,"series":"North Sea RSL"},{"year":2007.69,"value":17.2,"series":"North Sea RSL"},{"year":2007.78,"value":16.6,"series":"North Sea RSL"},{"year":2007.86,"value":15.4,"series":"North Sea RSL"},{"year":2007.95,"value":12.4,"series":"North Sea RSL"},{"year":2008.03,"value":7,"series":"North Sea RSL"},{"year":2008.12,"value":7,"series":"North Sea RSL"},{"year":2008.2,"value":5.7,"series":"North Sea RSL"},{"year":2008.29,"value":3.9,"series":"North Sea RSL"},{"year":2008.37,"value":1.5,"series":"North Sea RSL"},{"year":2008.46,"value":2.7,"series":"North Sea RSL"},{"year":2008.54,"value":1.5,"series":"North Sea RSL"},{"year":2008.63,"value":2.1,"series":"North Sea RSL"},{"year":2008.71,"value":2.4,"series":"North Sea RSL"},{"year":2008.8,"value":0.9,"series":"North Sea RSL"},{"year":2008.88,"value":-0.3,"series":"North Sea RSL"},{"year":2008.97,"value":-0.9,"series":"North Sea RSL"},{"year":2009.05,"value":-2.1,"series":"North Sea RSL"},{"year":2009.14,"value":-3.9,"series":"North Sea RSL"},{"year":2009.22,"value":-6.4,"series":"North Sea RSL"},{"year":2009.31,"value":-8.2,"series":"North Sea RSL"},{"year":2009.39,"value":-10,"series":"North Sea RSL"},{"year":2009.48,"value":-11.2,"series":"North Sea RSL"},{"year":2009.56,"value":-11.8,"series":"North Sea RSL"},{"year":2009.65,"value":-11.2,"series":"North Sea RSL"},{"year":2009.73,"value":-10,"series":"North Sea RSL"},{"year":2009.82,"value":-8.8,"series":"North Sea RSL"},{"year":2009.9,"value":-7,"series":"North Sea RSL"},{"year":2009.99,"value":-8.2,"series":"North Sea RSL"},{"year":2010.03,"value":-9.4,"series":"North Sea RSL"},{"year":2010.07,"value":-5.1,"series":"North Sea RSL"},{"year":2010.16,"value":-3.3,"series":"North Sea RSL"},{"year":2010.24,"value":-2.7,"series":"North Sea RSL"},{"year":2010.33,"value":-1.5,"series":"North Sea RSL"},{"year":2010.41,"value":-0.9,"series":"North Sea RSL"},{"year":2010.5,"value":-0.3,"series":"North Sea RSL"},{"year":2010.58,"value":-0.9,"series":"North Sea RSL"},{"year":2010.67,"value":-0.9,"series":"North Sea RSL"},{"year":2010.75,"value":0.3,"series":"North Sea RSL"},{"year":2010.84,"value":1.5,"series":"North Sea RSL"},{"year":2010.92,"value":2.1,"series":"North Sea RSL"},{"year":2011.01,"value":2.1,"series":"North Sea RSL"},{"year":2011.09,"value":2.4,"series":"North Sea RSL"},{"year":2011.18,"value":3.6,"series":"North Sea RSL"},{"year":2011.26,"value":2.1,"series":"North Sea RSL"},{"year":2011.35,"value":2.4,"series":"North Sea RSL"},{"year":2011.43,"value":2.7,"series":"North Sea RSL"},{"year":2011.52,"value":2.4,"series":"North Sea RSL"},{"year":2011.6,"value":2.1,"series":"North Sea RSL"},{"year":2011.69,"value":1.8,"series":"North Sea RSL"},{"year":2011.77,"value":1.2,"series":"North Sea RSL"},{"year":2011.86,"value":0.9,"series":"North Sea RSL"},{"year":2011.94,"value":0.9,"series":"North Sea RSL"},{"year":2012.03,"value":0.6,"series":"North Sea RSL"},{"year":2012.11,"value":0.9,"series":"North Sea RSL"},{"year":2012.2,"value":0.3,"series":"North Sea RSL"},{"year":2012.28,"value":0.9,"series":"North Sea RSL"},{"year":2012.37,"value":2.1,"series":"North Sea RSL"},{"year":2012.45,"value":3.9,"series":"North Sea RSL"},{"year":2012.54,"value":-2.1,"series":"North Sea RSL"},{"year":2012.62,"value":-2.4,"series":"North Sea RSL"},{"year":2012.71,"value":-2.7,"series":"North Sea RSL"},{"year":2012.79,"value":-2.4,"series":"North Sea RSL"},{"year":2012.88,"value":-2.7,"series":"North Sea RSL"},{"year":2012.95,"value":-3.3,"series":"North Sea RSL"},
      {"year":2003.0,"value":6.4,"series":"Norway RSL"},{"year":2003.07,"value":5.4,"series":"Norway RSL"},{"year":2003.15,"value":4.8,"series":"Norway RSL"},{"year":2003.23,"value":4.2,"series":"Norway RSL"},{"year":2003.32,"value":3.6,"series":"Norway RSL"},{"year":2003.4,"value":3.6,"series":"Norway RSL"},{"year":2003.49,"value":2.7,"series":"Norway RSL"},{"year":2003.53,"value":-1.5,"series":"Norway RSL"},{"year":2003.62,"value":-0.9,"series":"Norway RSL"},{"year":2003.7,"value":-0.3,"series":"Norway RSL"},{"year":2003.79,"value":-0.9,"series":"Norway RSL"},{"year":2003.87,"value":-1.5,"series":"Norway RSL"},{"year":2003.96,"value":-2.7,"series":"Norway RSL"},{"year":2004.04,"value":-3.3,"series":"Norway RSL"},{"year":2004.13,"value":-4.5,"series":"Norway RSL"},{"year":2004.21,"value":-3.9,"series":"Norway RSL"},{"year":2004.3,"value":-3.9,"series":"Norway RSL"},{"year":2004.38,"value":-5.1,"series":"Norway RSL"},{"year":2004.47,"value":-5.7,"series":"Norway RSL"},{"year":2004.55,"value":-8.2,"series":"Norway RSL"},{"year":2004.64,"value":-8.8,"series":"Norway RSL"},{"year":2004.72,"value":-9.4,"series":"Norway RSL"},{"year":2004.81,"value":-4.5,"series":"Norway RSL"},{"year":2004.89,"value":-3.3,"series":"Norway RSL"},{"year":2004.98,"value":-2.7,"series":"Norway RSL"},{"year":2005.06,"value":-1.5,"series":"Norway RSL"},{"year":2005.15,"value":-3.9,"series":"Norway RSL"},{"year":2005.23,"value":-5.7,"series":"Norway RSL"},{"year":2005.32,"value":-4.5,"series":"Norway RSL"},{"year":2005.4,"value":-5.1,"series":"Norway RSL"},{"year":2005.49,"value":-4.5,"series":"Norway RSL"},{"year":2005.57,"value":-6.4,"series":"Norway RSL"},{"year":2005.66,"value":-5.7,"series":"Norway RSL"},{"year":2005.74,"value":-5.1,"series":"Norway RSL"},{"year":2005.83,"value":-4.2,"series":"Norway RSL"},{"year":2005.91,"value":-3.3,"series":"Norway RSL"},{"year":2006.0,"value":0.9,"series":"Norway RSL"},{"year":2006.08,"value":2.1,"series":"Norway RSL"},{"year":2006.16,"value":2.7,"series":"Norway RSL"},{"year":2006.25,"value":3.3,"series":"Norway RSL"},{"year":2006.33,"value":3.9,"series":"Norway RSL"},{"year":2006.42,"value":5.1,"series":"Norway RSL"},{"year":2006.5,"value":4.5,"series":"Norway RSL"},{"year":2006.59,"value":3.9,"series":"Norway RSL"},{"year":2006.67,"value":5.1,"series":"Norway RSL"},{"year":2006.76,"value":4.5,"series":"Norway RSL"},{"year":2006.84,"value":3.9,"series":"Norway RSL"},{"year":2006.93,"value":0.3,"series":"Norway RSL"},{"year":2007.01,"value":-0.9,"series":"Norway RSL"},{"year":2007.1,"value":3.9,"series":"Norway RSL"},{"year":2007.18,"value":3.9,"series":"Norway RSL"},{"year":2007.27,"value":5.1,"series":"Norway RSL"},{"year":2007.35,"value":7,"series":"Norway RSL"},{"year":2007.44,"value":8.8,"series":"Norway RSL"},{"year":2007.52,"value":9.4,"series":"Norway RSL"},{"year":2007.61,"value":10,"series":"Norway RSL"},{"year":2007.69,"value":9.4,"series":"Norway RSL"},{"year":2007.78,"value":10.6,"series":"Norway RSL"},{"year":2007.86,"value":9.4,"series":"Norway RSL"},{"year":2007.95,"value":7.6,"series":"Norway RSL"},{"year":2008.03,"value":6.4,"series":"Norway RSL"},{"year":2008.12,"value":5.1,"series":"Norway RSL"},{"year":2008.2,"value":2.1,"series":"Norway RSL"},{"year":2008.29,"value":3.9,"series":"Norway RSL"},{"year":2008.37,"value":5.1,"series":"Norway RSL"},{"year":2008.46,"value":3.9,"series":"Norway RSL"},{"year":2008.54,"value":4.5,"series":"Norway RSL"},{"year":2008.63,"value":4.2,"series":"Norway RSL"},{"year":2008.71,"value":4.5,"series":"Norway RSL"},{"year":2008.8,"value":4.5,"series":"Norway RSL"},{"year":2008.88,"value":3.3,"series":"Norway RSL"},{"year":2008.97,"value":5.1,"series":"Norway RSL"},{"year":2009.05,"value":3.9,"series":"Norway RSL"},{"year":2009.14,"value":2.7,"series":"Norway RSL"},{"year":2009.22,"value":1.5,"series":"Norway RSL"},{"year":2009.31,"value":0.9,"series":"Norway RSL"},{"year":2009.39,"value":0.3,"series":"Norway RSL"},{"year":2009.48,"value":-0.9,"series":"Norway RSL"},{"year":2009.56,"value":-2.1,"series":"Norway RSL"},{"year":2009.65,"value":-1.5,"series":"Norway RSL"},{"year":2009.73,"value":-1.5,"series":"Norway RSL"},{"year":2009.82,"value":-0.6,"series":"Norway RSL"},{"year":2009.9,"value":-1.5,"series":"Norway RSL"},{"year":2009.99,"value":-2.7,"series":"Norway RSL"},{"year":2010.07,"value":-3.3,"series":"Norway RSL"},{"year":2010.16,"value":-3.3,"series":"Norway RSL"},{"year":2010.24,"value":-5.1,"series":"Norway RSL"},{"year":2010.33,"value":-4.5,"series":"Norway RSL"},{"year":2010.41,"value":-3.3,"series":"Norway RSL"},{"year":2010.5,"value":-4.5,"series":"Norway RSL"},{"year":2010.58,"value":-5.1,"series":"Norway RSL"},{"year":2010.67,"value":-5.4,"series":"Norway RSL"},{"year":2010.75,"value":-5.1,"series":"Norway RSL"},{"year":2010.84,"value":-3.9,"series":"Norway RSL"},{"year":2010.92,"value":-2.1,"series":"Norway RSL"},{"year":2011.01,"value":0.3,"series":"Norway RSL"},{"year":2011.09,"value":-0.9,"series":"Norway RSL"},{"year":2011.18,"value":-2.1,"series":"Norway RSL"},{"year":2011.26,"value":-3.3,"series":"Norway RSL"},{"year":2011.35,"value":-2.1,"series":"Norway RSL"},{"year":2011.43,"value":-3.9,"series":"Norway RSL"},{"year":2011.52,"value":-5.7,"series":"Norway RSL"},{"year":2011.6,"value":-4.5,"series":"Norway RSL"},{"year":2011.69,"value":-4.5,"series":"Norway RSL"},{"year":2011.77,"value":-4.5,"series":"Norway RSL"},{"year":2011.86,"value":-5.1,"series":"Norway RSL"},{"year":2011.94,"value":-5.1,"series":"Norway RSL"},{"year":2012.02,"value":-5.7,"series":"Norway RSL"},{"year":2012.04,"value":-0.9,"series":"Norway RSL"},{"year":2012.11,"value":-0.3,"series":"Norway RSL"},{"year":2012.2,"value":0.9,"series":"Norway RSL"},{"year":2012.28,"value":3.3,"series":"Norway RSL"},{"year":2012.37,"value":5.7,"series":"Norway RSL"},{"year":2012.45,"value":2.7,"series":"Norway RSL"},{"year":2012.54,"value":0.9,"series":"Norway RSL"},{"year":2012.62,"value":2.7,"series":"Norway RSL"},{"year":2012.71,"value":2.7,"series":"Norway RSL"},{"year":2012.79,"value":2.1,"series":"Norway RSL"},{"year":2012.88,"value":0.3,"series":"Norway RSL"},{"year":2012.95,"value":-2.1,"series":"Norway RSL"}
    ],
    "b_grace": [
      {"year":2003.7,"value":-5.1,"series":"North Sea GRACE"},{"year":2003.79,"value":-5.7,"series":"North Sea GRACE"},{"year":2003.87,"value":-3.3,"series":"North Sea GRACE"},{"year":2003.96,"value":-2.1,"series":"North Sea GRACE"},{"year":2004.04,"value":-1.5,"series":"North Sea GRACE"},{"year":2004.13,"value":-0.3,"series":"North Sea GRACE"},{"year":2004.21,"value":-0.9,"series":"North Sea GRACE"},{"year":2004.3,"value":-0.3,"series":"North Sea GRACE"},{"year":2004.38,"value":-0.6,"series":"North Sea GRACE"},{"year":2004.47,"value":-0.9,"series":"North Sea GRACE"},{"year":2004.55,"value":-1.5,"series":"North Sea GRACE"},{"year":2004.64,"value":-2.7,"series":"North Sea GRACE"},{"year":2004.72,"value":-3.3,"series":"North Sea GRACE"},{"year":2004.81,"value":-2.1,"series":"North Sea GRACE"},{"year":2004.89,"value":-2.7,"series":"North Sea GRACE"},{"year":2004.98,"value":-4.5,"series":"North Sea GRACE"},{"year":2005.06,"value":-5.1,"series":"North Sea GRACE"},{"year":2005.15,"value":-5.7,"series":"North Sea GRACE"},{"year":2005.23,"value":-6.4,"series":"North Sea GRACE"},{"year":2005.32,"value":-7,"series":"North Sea GRACE"},{"year":2005.4,"value":-5.1,"series":"North Sea GRACE"},{"year":2005.49,"value":-0.9,"series":"North Sea GRACE"},{"year":2005.57,"value":0.3,"series":"North Sea GRACE"},{"year":2005.66,"value":0.9,"series":"North Sea GRACE"},{"year":2005.74,"value":1.5,"series":"North Sea GRACE"},{"year":2005.83,"value":2.7,"series":"North Sea GRACE"},{"year":2005.91,"value":3.9,"series":"North Sea GRACE"},{"year":2006.0,"value":4.5,"series":"North Sea GRACE"},{"year":2006.08,"value":5.1,"series":"North Sea GRACE"},{"year":2006.16,"value":5.7,"series":"North Sea GRACE"},{"year":2006.25,"value":7,"series":"North Sea GRACE"},{"year":2006.33,"value":8.2,"series":"North Sea GRACE"},{"year":2006.42,"value":8.8,"series":"North Sea GRACE"},{"year":2006.5,"value":7.6,"series":"North Sea GRACE"},{"year":2006.59,"value":9.4,"series":"North Sea GRACE"},{"year":2006.67,"value":12.4,"series":"North Sea GRACE"},{"year":2006.76,"value":13.6,"series":"North Sea GRACE"},{"year":2006.84,"value":13.6,"series":"North Sea GRACE"},{"year":2006.93,"value":13,"series":"North Sea GRACE"},{"year":2007.01,"value":14.2,"series":"North Sea GRACE"},{"year":2007.1,"value":13,"series":"North Sea GRACE"},{"year":2007.18,"value":13,"series":"North Sea GRACE"},{"year":2007.27,"value":13.6,"series":"North Sea GRACE"},{"year":2007.35,"value":14.2,"series":"North Sea GRACE"},{"year":2007.44,"value":14.2,"series":"North Sea GRACE"},{"year":2007.52,"value":14.8,"series":"North Sea GRACE"},{"year":2007.61,"value":14.8,"series":"North Sea GRACE"},{"year":2007.69,"value":15.4,"series":"North Sea GRACE"},{"year":2007.78,"value":14.2,"series":"North Sea GRACE"},{"year":2007.86,"value":13.6,"series":"North Sea GRACE"},{"year":2007.95,"value":14.8,"series":"North Sea GRACE"},{"year":2008.03,"value":14.8,"series":"North Sea GRACE"},{"year":2008.12,"value":15.4,"series":"North Sea GRACE"},{"year":2008.2,"value":14.8,"series":"North Sea GRACE"},{"year":2008.29,"value":16.6,"series":"North Sea GRACE"},{"year":2008.37,"value":14.8,"series":"North Sea GRACE"},{"year":2008.46,"value":11.2,"series":"North Sea GRACE"},{"year":2008.5,"value":8.2,"series":"North Sea GRACE"},{"year":2008.54,"value":4.5,"series":"North Sea GRACE"},{"year":2008.63,"value":2.1,"series":"North Sea GRACE"},{"year":2008.71,"value":-2.1,"series":"North Sea GRACE"},{"year":2008.8,"value":-3.3,"series":"North Sea GRACE"},{"year":2008.88,"value":-3.9,"series":"North Sea GRACE"},{"year":2008.97,"value":-3.3,"series":"North Sea GRACE"},{"year":2009.05,"value":-3.9,"series":"North Sea GRACE"},{"year":2009.14,"value":-4.5,"series":"North Sea GRACE"},{"year":2009.22,"value":-5.7,"series":"North Sea GRACE"},{"year":2009.31,"value":-8.8,"series":"North Sea GRACE"},{"year":2009.39,"value":-13,"series":"North Sea GRACE"},{"year":2009.48,"value":-16,"series":"North Sea GRACE"},{"year":2009.56,"value":-18.5,"series":"North Sea GRACE"},{"year":2009.65,"value":-19.1,"series":"North Sea GRACE"},{"year":2009.73,"value":-17.8,"series":"North Sea GRACE"},{"year":2009.82,"value":-17.2,"series":"North Sea GRACE"},{"year":2009.9,"value":-16.6,"series":"North Sea GRACE"},{"year":2009.99,"value":-17.8,"series":"North Sea GRACE"},{"year":2010.07,"value":-18.5,"series":"North Sea GRACE"},{"year":2010.16,"value":-17.8,"series":"North Sea GRACE"},{"year":2010.24,"value":-17.2,"series":"North Sea GRACE"},{"year":2010.33,"value":-18.5,"series":"North Sea GRACE"},{"year":2010.41,"value":-15.4,"series":"North Sea GRACE"},{"year":2010.5,"value":-11.8,"series":"North Sea GRACE"},{"year":2010.58,"value":-8.8,"series":"North Sea GRACE"},{"year":2010.67,"value":-7.6,"series":"North Sea GRACE"},{"year":2010.75,"value":-7,"series":"North Sea GRACE"},{"year":2010.84,"value":-7.3,"series":"North Sea GRACE"},{"year":2010.92,"value":-7.9,"series":"North Sea GRACE"},{"year":2011.01,"value":-8.2,"series":"North Sea GRACE"},{"year":2011.09,"value":-7.6,"series":"North Sea GRACE"},{"year":2011.18,"value":-7.9,"series":"North Sea GRACE"},{"year":2011.26,"value":-10.6,"series":"North Sea GRACE"},{"year":2011.35,"value":-11.8,"series":"North Sea GRACE"},{"year":2011.43,"value":-11.2,"series":"North Sea GRACE"},{"year":2011.52,"value":-9.7,"series":"North Sea GRACE"},{"year":2011.6,"value":-7.6,"series":"North Sea GRACE"},{"year":2011.69,"value":-5.1,"series":"North Sea GRACE"},{"year":2011.77,"value":-3.3,"series":"North Sea GRACE"},{"year":2011.86,"value":-2.1,"series":"North Sea GRACE"},{"year":2011.94,"value":-1.8,"series":"North Sea GRACE"},{"year":2012.03,"value":-0.9,"series":"North Sea GRACE"},{"year":2012.11,"value":-0.3,"series":"North Sea GRACE"},{"year":2012.2,"value":0.3,"series":"North Sea GRACE"},{"year":2012.28,"value":0.9,"series":"North Sea GRACE"},{"year":2012.37,"value":3.3,"series":"North Sea GRACE"},{"year":2012.45,"value":5.7,"series":"North Sea GRACE"},{"year":2012.54,"value":7,"series":"North Sea GRACE"},{"year":2012.62,"value":7.3,"series":"North Sea GRACE"},{"year":2012.71,"value":7,"series":"North Sea GRACE"},{"year":2012.79,"value":6.7,"series":"North Sea GRACE"},{"year":2012.88,"value":6.4,"series":"North Sea GRACE"},{"year":2012.95,"value":6,"series":"North Sea GRACE"},
      {"year":2003.79,"value":-0.3,"series":"Norway GRACE"},{"year":2003.87,"value":0,"series":"Norway GRACE"},{"year":2003.96,"value":0.3,"series":"Norway GRACE"},{"year":2004.04,"value":0.3,"series":"Norway GRACE"},{"year":2004.13,"value":0.6,"series":"Norway GRACE"},{"year":2004.21,"value":0.9,"series":"Norway GRACE"},{"year":2004.3,"value":1.5,"series":"Norway GRACE"},{"year":2004.38,"value":1.8,"series":"Norway GRACE"},{"year":2004.47,"value":2.1,"series":"Norway GRACE"},{"year":2004.55,"value":1.5,"series":"Norway GRACE"},{"year":2004.64,"value":0.3,"series":"Norway GRACE"},{"year":2004.72,"value":-0.3,"series":"Norway GRACE"},{"year":2004.81,"value":-1.5,"series":"Norway GRACE"},{"year":2004.89,"value":-2.7,"series":"Norway GRACE"},{"year":2004.98,"value":-3.3,"series":"Norway GRACE"},{"year":2005.06,"value":-3.9,"series":"Norway GRACE"},{"year":2005.15,"value":-4.5,"series":"Norway GRACE"},{"year":2005.23,"value":-5.1,"series":"Norway GRACE"},{"year":2005.32,"value":-5.1,"series":"Norway GRACE"},{"year":2005.4,"value":-4.5,"series":"Norway GRACE"},{"year":2005.49,"value":-2.7,"series":"Norway GRACE"},{"year":2005.57,"value":-2.1,"series":"Norway GRACE"},{"year":2005.66,"value":-1.8,"series":"Norway GRACE"},{"year":2005.74,"value":-0.9,"series":"Norway GRACE"},{"year":2005.83,"value":-0.3,"series":"Norway GRACE"},{"year":2005.91,"value":0.3,"series":"Norway GRACE"},{"year":2006.0,"value":0.9,"series":"Norway GRACE"},{"year":2006.08,"value":0.9,"series":"Norway GRACE"},{"year":2006.16,"value":1.2,"series":"Norway GRACE"},{"year":2006.25,"value":1.5,"series":"Norway GRACE"},{"year":2006.33,"value":2.1,"series":"Norway GRACE"},{"year":2006.42,"value":2.7,"series":"Norway GRACE"},{"year":2006.5,"value":3.3,"series":"Norway GRACE"},{"year":2006.59,"value":3.9,"series":"Norway GRACE"},{"year":2006.67,"value":4.2,"series":"Norway GRACE"},{"year":2006.76,"value":4.2,"series":"Norway GRACE"},{"year":2006.84,"value":4.5,"series":"Norway GRACE"},{"year":2007.01,"value":3.9,"series":"Norway GRACE"},{"year":2007.18,"value":3.9,"series":"Norway GRACE"},{"year":2007.35,"value":3.3,"series":"Norway GRACE"},{"year":2007.52,"value":3.9,"series":"Norway GRACE"},{"year":2007.69,"value":4.5,"series":"Norway GRACE"},{"year":2007.86,"value":4.5,"series":"Norway GRACE"},{"year":2008.03,"value":5.1,"series":"Norway GRACE"},{"year":2008.2,"value":5.7,"series":"Norway GRACE"},{"year":2008.37,"value":5.1,"series":"Norway GRACE"},{"year":2008.54,"value":2.7,"series":"Norway GRACE"},{"year":2008.63,"value":0.9,"series":"Norway GRACE"},{"year":2008.71,"value":-0.9,"series":"Norway GRACE"},{"year":2008.8,"value":-1.5,"series":"Norway GRACE"},{"year":2008.88,"value":-2.1,"series":"Norway GRACE"},{"year":2008.97,"value":-2.4,"series":"Norway GRACE"},{"year":2009.05,"value":-2.7,"series":"Norway GRACE"},{"year":2009.14,"value":-3,"series":"Norway GRACE"},{"year":2009.22,"value":-3.3,"series":"Norway GRACE"},{"year":2009.31,"value":-3.9,"series":"Norway GRACE"},{"year":2009.39,"value":-4.5,"series":"Norway GRACE"},{"year":2009.48,"value":-5.1,"series":"Norway GRACE"},{"year":2009.56,"value":-5.7,"series":"Norway GRACE"},{"year":2009.65,"value":-6,"series":"Norway GRACE"},{"year":2009.73,"value":-6.4,"series":"Norway GRACE"},{"year":2009.82,"value":-5.7,"series":"Norway GRACE"},{"year":2009.9,"value":-5.1,"series":"Norway GRACE"},{"year":2009.99,"value":-5.4,"series":"Norway GRACE"},{"year":2010.07,"value":-5.1,"series":"Norway GRACE"},{"year":2010.16,"value":-4.5,"series":"Norway GRACE"},{"year":2010.24,"value":-3.3,"series":"Norway GRACE"},{"year":2010.33,"value":-2.7,"series":"Norway GRACE"},{"year":2010.41,"value":-1.8,"series":"Norway GRACE"},{"year":2010.5,"value":-0.9,"series":"Norway GRACE"},{"year":2010.58,"value":-0.3,"series":"Norway GRACE"},{"year":2010.67,"value":0.3,"series":"Norway GRACE"},{"year":2010.75,"value":0.6,"series":"Norway GRACE"},{"year":2010.92,"value":0.9,"series":"Norway GRACE"},{"year":2011.09,"value":0.6,"series":"Norway GRACE"},{"year":2011.26,"value":0.3,"series":"Norway GRACE"},{"year":2011.43,"value":0.3,"series":"Norway GRACE"},{"year":2011.6,"value":1.2,"series":"Norway GRACE"},{"year":2011.77,"value":1.2,"series":"Norway GRACE"},{"year":2011.94,"value":1.5,"series":"Norway GRACE"},{"year":2012.11,"value":2.1,"series":"Norway GRACE"},{"year":2012.28,"value":2.4,"series":"Norway GRACE"},{"year":2012.45,"value":2.7,"series":"Norway GRACE"},{"year":2012.62,"value":2.4,"series":"Norway GRACE"},{"year":2012.79,"value":2.1,"series":"Norway GRACE"},{"year":2012.95,"value":1.5,"series":"Norway GRACE"}
    ],
    "c_res": [
      {"year":1961.96,"value":-2.9,"series":"Residual"},{"year":1962.34,"value":-1.7,"series":"Residual"},{"year":1962.8,"value":-2.3,"series":"Residual"},{"year":1963.27,"value":-2.9,"series":"Residual"},{"year":1963.6,"value":-1.9,"series":"Residual"},{"year":1963.93,"value":1.3,"series":"Residual"},{"year":1964.3,"value":2.1,"series":"Residual"},{"year":1964.67,"value":3.3,"series":"Residual"},{"year":1965.05,"value":3.9,"series":"Residual"},{"year":1965.42,"value":2.1,"series":"Residual"},{"year":1965.79,"value":3.3,"series":"Residual"},{"year":1966.17,"value":2.1,"series":"Residual"},{"year":1966.64,"value":1.3,"series":"Residual"},{"year":1967.1,"value":3.3,"series":"Residual"},{"year":1967.57,"value":3.7,"series":"Residual"},{"year":1967.94,"value":2.5,"series":"Residual"},{"year":1968.27,"value":1.3,"series":"Residual"},{"year":1968.74,"value":3.3,"series":"Residual"},{"year":1969.21,"value":4.1,"series":"Residual"},{"year":1969.67,"value":4.5,"series":"Residual"},{"year":1970.14,"value":4.1,"series":"Residual"},{"year":1970.61,"value":4.9,"series":"Residual"},{"year":1971.07,"value":5.9,"series":"Residual"},{"year":1971.54,"value":4.5,"series":"Residual"},{"year":1972.01,"value":4.1,"series":"Residual"},{"year":1972.34,"value":1.7,"series":"Residual"},{"year":1972.71,"value":-0.7,"series":"Residual"},{"year":1973.18,"value":-2.5,"series":"Residual"},{"year":1973.64,"value":-3.3,"series":"Residual"},{"year":1974.11,"value":-3.3,"series":"Residual"},{"year":1974.58,"value":-3.1,"series":"Residual"},{"year":1975.05,"value":-4,"series":"Residual"},{"year":1975.51,"value":-3.8,"series":"Residual"},{"year":1975.98,"value":-1.9,"series":"Residual"},{"year":1976.45,"value":-0.7,"series":"Residual"},{"year":1976.92,"value":-1.9,"series":"Residual"},{"year":1977.38,"value":-2.9,"series":"Residual"},{"year":1977.85,"value":-3.5,"series":"Residual"},{"year":1978.32,"value":-4,"series":"Residual"},{"year":1978.79,"value":-4.4,"series":"Residual"},{"year":1979.25,"value":-4.6,"series":"Residual"},{"year":1979.72,"value":-4,"series":"Residual"},{"year":1980.19,"value":-3.5,"series":"Residual"},{"year":1980.65,"value":-2.3,"series":"Residual"},{"year":1981.12,"value":-1.5,"series":"Residual"},{"year":1981.59,"value":-1.1,"series":"Residual"},{"year":1982.06,"value":-0.7,"series":"Residual"},{"year":1982.52,"value":0.1,"series":"Residual"},{"year":1982.99,"value":-1.5,"series":"Residual"},{"year":1983.46,"value":-1.1,"series":"Residual"},{"year":1983.93,"value":0.5,"series":"Residual"},{"year":1984.39,"value":1.3,"series":"Residual"},{"year":1984.86,"value":2.5,"series":"Residual"},{"year":1985.33,"value":2.1,"series":"Residual"},{"year":1985.79,"value":2.5,"series":"Residual"},{"year":1986.26,"value":2.9,"series":"Residual"},{"year":1986.73,"value":2.9,"series":"Residual"},{"year":1987.2,"value":1.7,"series":"Residual"},{"year":1987.66,"value":1.7,"series":"Residual"},{"year":1988.13,"value":2.1,"series":"Residual"},{"year":1988.6,"value":3.3,"series":"Residual"},{"year":1989.07,"value":4.5,"series":"Residual"},{"year":1989.53,"value":3.7,"series":"Residual"},{"year":1990.0,"value":2.5,"series":"Residual"},{"year":1990.47,"value":1.3,"series":"Residual"},{"year":1990.93,"value":2.9,"series":"Residual"},{"year":1991.31,"value":4.9,"series":"Residual"},{"year":1991.64,"value":2.5,"series":"Residual"},{"year":1992.1,"value":-0.3,"series":"Residual"},{"year":1992.57,"value":-1.9,"series":"Residual"},{"year":1993.04,"value":-3.5,"series":"Residual"},{"year":1993.5,"value":-4.4,"series":"Residual"},{"year":1993.97,"value":-4.8,"series":"Residual"},{"year":1994.44,"value":-5.2,"series":"Residual"},{"year":1994.91,"value":-6,"series":"Residual"},{"year":1995.37,"value":-6.4,"series":"Residual"},{"year":1995.84,"value":-5.6,"series":"Residual"},{"year":1996.31,"value":-6,"series":"Residual"},{"year":1996.78,"value":-5.6,"series":"Residual"},{"year":1997.24,"value":-6.8,"series":"Residual"},{"year":1997.71,"value":-6.8,"series":"Residual"},{"year":1998.18,"value":-4.4,"series":"Residual"},{"year":1998.5,"value":-2.5,"series":"Residual"},{"year":1998.88,"value":-3.5,"series":"Residual"},{"year":1999.35,"value":-4.4,"series":"Residual"},{"year":1999.81,"value":-3.1,"series":"Residual"},{"year":2000.28,"value":-1.5,"series":"Residual"},{"year":2000.75,"value":0.1,"series":"Residual"},{"year":2001.21,"value":1.3,"series":"Residual"},{"year":2001.68,"value":2.5,"series":"Residual"},{"year":2002.15,"value":2.9,"series":"Residual"},{"year":2002.62,"value":4.5,"series":"Residual"},{"year":2003.08,"value":6.5,"series":"Residual"},{"year":2003.55,"value":7.3,"series":"Residual"},{"year":2004.02,"value":7.9,"series":"Residual"},{"year":2004.49,"value":7.3,"series":"Residual"},{"year":2004.95,"value":6.9,"series":"Residual"},{"year":2005.42,"value":7.7,"series":"Residual"},{"year":2005.89,"value":6.9,"series":"Residual"},{"year":2006.36,"value":4.1,"series":"Residual"},{"year":2006.82,"value":3.7,"series":"Residual"},{"year":2007.29,"value":3.3,"series":"Residual"},{"year":2007.76,"value":2.5,"series":"Residual"},{"year":2008.22,"value":1.7,"series":"Residual"},{"year":2008.69,"value":0.5,"series":"Residual"},{"year":2009.16,"value":-1.1,"series":"Residual"},{"year":2009.63,"value":-3.5,"series":"Residual"},{"year":2010.0,"value":-5.6,"series":"Residual"},{"year":2010.37,"value":-6.8,"series":"Residual"},{"year":2010.79,"value":-8,"series":"Residual"}
    ],
    "c_nod": [
      {"year":1962.1,"value":-3.8,"series":"Equilibrium nodal cycle"},{"year":1963,"value":-2.54,"series":"Equilibrium nodal cycle"},{"year":1964,"value":-0.88,"series":"Equilibrium nodal cycle"},{"year":1965,"value":0.91,"series":"Equilibrium nodal cycle"},{"year":1966,"value":2.6,"series":"Equilibrium nodal cycle"},{"year":1967,"value":4.0,"series":"Equilibrium nodal cycle"},{"year":1968,"value":4.97,"series":"Equilibrium nodal cycle"},{"year":1969,"value":5.39,"series":"Equilibrium nodal cycle"},{"year":1970,"value":5.21,"series":"Equilibrium nodal cycle"},{"year":1971,"value":4.45,"series":"Equilibrium nodal cycle"},{"year":1972,"value":3.21,"series":"Equilibrium nodal cycle"},{"year":1973,"value":1.61,"series":"Equilibrium nodal cycle"},{"year":1974,"value":-0.17,"series":"Equilibrium nodal cycle"},{"year":1975,"value":-1.9,"series":"Equilibrium nodal cycle"},{"year":1976,"value":-3.41,"series":"Equilibrium nodal cycle"},{"year":1977,"value":-4.53,"series":"Equilibrium nodal cycle"},{"year":1978,"value":-5.12,"series":"Equilibrium nodal cycle"},{"year":1979,"value":-5.13,"series":"Equilibrium nodal cycle"},{"year":1980,"value":-4.54,"series":"Equilibrium nodal cycle"},{"year":1981,"value":-3.42,"series":"Equilibrium nodal cycle"},{"year":1982,"value":-1.92,"series":"Equilibrium nodal cycle"},{"year":1983,"value":-0.18,"series":"Equilibrium nodal cycle"},{"year":1984,"value":1.58,"series":"Equilibrium nodal cycle"},{"year":1985,"value":3.19,"series":"Equilibrium nodal cycle"},{"year":1986,"value":4.44,"series":"Equilibrium nodal cycle"},{"year":1987,"value":5.2,"series":"Equilibrium nodal cycle"},{"year":1988,"value":5.39,"series":"Equilibrium nodal cycle"},{"year":1989,"value":4.98,"series":"Equilibrium nodal cycle"},{"year":1990,"value":4.02,"series":"Equilibrium nodal cycle"},{"year":1991,"value":2.61,"series":"Equilibrium nodal cycle"},{"year":1992,"value":0.93,"series":"Equilibrium nodal cycle"},{"year":1993,"value":-0.85,"series":"Equilibrium nodal cycle"},{"year":1994,"value":-2.53,"series":"Equilibrium nodal cycle"},{"year":1995,"value":-3.91,"series":"Equilibrium nodal cycle"},{"year":1996,"value":-4.83,"series":"Equilibrium nodal cycle"},{"year":1997,"value":-5.19,"series":"Equilibrium nodal cycle"},{"year":1998,"value":-4.97,"series":"Equilibrium nodal cycle"},{"year":1999,"value":-4.16,"series":"Equilibrium nodal cycle"},{"year":2000,"value":-2.88,"series":"Equilibrium nodal cycle"},{"year":2001,"value":-1.26,"series":"Equilibrium nodal cycle"},{"year":2002,"value":0.51,"series":"Equilibrium nodal cycle"},{"year":2003,"value":2.24,"series":"Equilibrium nodal cycle"},{"year":2004,"value":3.73,"series":"Equilibrium nodal cycle"},{"year":2005,"value":4.8,"series":"Equilibrium nodal cycle"},{"year":2006,"value":5.35,"series":"Equilibrium nodal cycle"},{"year":2007,"value":5.3,"series":"Equilibrium nodal cycle"},{"year":2008,"value":4.66,"series":"Equilibrium nodal cycle"},{"year":2009,"value":3.51,"series":"Equilibrium nodal cycle"},{"year":2010,"value":1.98,"series":"Equilibrium nodal cycle"},{"year":2010.9,"value":0.41,"series":"Equilibrium nodal cycle"}
    ],
    "d_res": [
      {"year":1961.96,"value":-1,"series":"Residual"},{"year":1962.43,"value":-1.2,"series":"Residual"},{"year":1962.8,"value":-2.4,"series":"Residual"},{"year":1963.18,"value":-0.8,"series":"Residual"},{"year":1963.46,"value":0.4,"series":"Residual"},{"year":1963.74,"value":2.5,"series":"Residual"},{"year":1964.07,"value":3.5,"series":"Residual"},{"year":1964.44,"value":4.1,"series":"Residual"},{"year":1964.77,"value":6.9,"series":"Residual"},{"year":1965.09,"value":9.7,"series":"Residual"},{"year":1965.47,"value":9.3,"series":"Residual"},{"year":1965.79,"value":9.5,"series":"Residual"},{"year":1966.07,"value":7.7,"series":"Residual"},{"year":1966.4,"value":6.7,"series":"Residual"},{"year":1966.73,"value":6.1,"series":"Residual"},{"year":1967.1,"value":5.3,"series":"Residual"},{"year":1967.48,"value":6.5,"series":"Residual"},{"year":1967.8,"value":6.5,"series":"Residual"},{"year":1968.13,"value":5.7,"series":"Residual"},{"year":1968.5,"value":6.1,"series":"Residual"},{"year":1968.88,"value":8.1,"series":"Residual"},{"year":1969.21,"value":9.3,"series":"Residual"},{"year":1969.53,"value":10.9,"series":"Residual"},{"year":1969.91,"value":9.7,"series":"Residual"},{"year":1970.37,"value":10.1,"series":"Residual"},{"year":1970.75,"value":10.9,"series":"Residual"},{"year":1971.07,"value":12.6,"series":"Residual"},{"year":1971.4,"value":11.1,"series":"Residual"},{"year":1971.78,"value":8.5,"series":"Residual"},{"year":1972.24,"value":6.9,"series":"Residual"},{"year":1972.62,"value":5.7,"series":"Residual"},{"year":1972.94,"value":2.9,"series":"Residual"},{"year":1973.27,"value":2.1,"series":"Residual"},{"year":1973.64,"value":0,"series":"Residual"},{"year":1974.11,"value":0.8,"series":"Residual"},{"year":1974.58,"value":-1.6,"series":"Residual"},{"year":1975.05,"value":-2,"series":"Residual"},{"year":1975.51,"value":-3.2,"series":"Residual"},{"year":1975.98,"value":-3.6,"series":"Residual"},{"year":1976.45,"value":-4.4,"series":"Residual"},{"year":1976.92,"value":-6,"series":"Residual"},{"year":1977.38,"value":-8,"series":"Residual"},{"year":1977.85,"value":-10,"series":"Residual"},{"year":1978.32,"value":-12.9,"series":"Residual"},{"year":1978.79,"value":-13.5,"series":"Residual"},{"year":1979.25,"value":-15.3,"series":"Residual"},{"year":1979.72,"value":-14.5,"series":"Residual"},{"year":1980.19,"value":-13.1,"series":"Residual"},{"year":1980.65,"value":-14.1,"series":"Residual"},{"year":1981.12,"value":-13.3,"series":"Residual"},{"year":1981.59,"value":-12.9,"series":"Residual"},{"year":1982.06,"value":-13.7,"series":"Residual"},{"year":1982.52,"value":-12.9,"series":"Residual"},{"year":1982.99,"value":-9.6,"series":"Residual"},{"year":1983.46,"value":-11.7,"series":"Residual"},{"year":1983.93,"value":-12.5,"series":"Residual"},{"year":1984.39,"value":-10.8,"series":"Residual"},{"year":1984.77,"value":-8.4,"series":"Residual"},{"year":1985.09,"value":-5.2,"series":"Residual"},{"year":1985.56,"value":-3.6,"series":"Residual"},{"year":1986.03,"value":-2,"series":"Residual"},{"year":1986.5,"value":0,"series":"Residual"},{"year":1986.96,"value":0.8,"series":"Residual"},{"year":1987.43,"value":1.3,"series":"Residual"},{"year":1987.9,"value":1.7,"series":"Residual"},{"year":1988.36,"value":2.1,"series":"Residual"},{"year":1988.74,"value":3.6,"series":"Residual"},{"year":1989.07,"value":5.7,"series":"Residual"},{"year":1989.53,"value":4.9,"series":"Residual"},{"year":1990.0,"value":4.5,"series":"Residual"},{"year":1990.47,"value":4.9,"series":"Residual"},{"year":1990.93,"value":5.3,"series":"Residual"},{"year":1991.4,"value":5.7,"series":"Residual"},{"year":1991.87,"value":6.9,"series":"Residual"},{"year":1992.24,"value":7.9,"series":"Residual"},{"year":1992.57,"value":6.1,"series":"Residual"},{"year":1993.04,"value":4.1,"series":"Residual"},{"year":1993.5,"value":2.9,"series":"Residual"},{"year":1993.97,"value":1.3,"series":"Residual"},{"year":1994.44,"value":-0.8,"series":"Residual"},{"year":1994.91,"value":-2.8,"series":"Residual"},{"year":1995.37,"value":-4.4,"series":"Residual"},{"year":1995.84,"value":-3.6,"series":"Residual"},{"year":1996.31,"value":-4,"series":"Residual"},{"year":1996.78,"value":-4.8,"series":"Residual"},{"year":1997.24,"value":-3.6,"series":"Residual"},{"year":1997.71,"value":-4.8,"series":"Residual"},{"year":1998.18,"value":-1.6,"series":"Residual"},{"year":1998.64,"value":-0.4,"series":"Residual"},{"year":1999.11,"value":0.4,"series":"Residual"},{"year":1999.58,"value":1.3,"series":"Residual"},{"year":2000.05,"value":0.8,"series":"Residual"},{"year":2000.51,"value":1.3,"series":"Residual"},{"year":2000.98,"value":1.7,"series":"Residual"},{"year":2001.45,"value":2.1,"series":"Residual"},{"year":2001.92,"value":2.9,"series":"Residual"},{"year":2002.38,"value":3.3,"series":"Residual"},{"year":2002.85,"value":5.7,"series":"Residual"},{"year":2003.32,"value":6.3,"series":"Residual"},{"year":2003.79,"value":6.1,"series":"Residual"},{"year":2004.25,"value":6.5,"series":"Residual"},{"year":2004.72,"value":5.7,"series":"Residual"},{"year":2005.19,"value":4.9,"series":"Residual"},{"year":2005.65,"value":6.5,"series":"Residual"},{"year":2005.98,"value":7.7,"series":"Residual"},{"year":2006.36,"value":7.3,"series":"Residual"},{"year":2006.59,"value":4.9,"series":"Residual"},{"year":2007.06,"value":4.1,"series":"Residual"},{"year":2007.52,"value":3.3,"series":"Residual"},{"year":2007.99,"value":2.9,"series":"Residual"},{"year":2008.46,"value":2.5,"series":"Residual"},{"year":2008.92,"value":2.5,"series":"Residual"},{"year":2009.39,"value":2.1,"series":"Residual"},{"year":2009.72,"value":0,"series":"Residual"},{"year":2010.09,"value":-2.8,"series":"Residual"},{"year":2010.47,"value":-4.4,"series":"Residual"},{"year":2010.79,"value":-5,"series":"Residual"}
    ],
    "d_nod": [
      {"year":1962.1,"value":-5.44,"series":"Equilibrium nodal cycle"},{"year":1963,"value":-3.69,"series":"Equilibrium nodal cycle"},{"year":1964,"value":-1.36,"series":"Equilibrium nodal cycle"},{"year":1965,"value":1.12,"series":"Equilibrium nodal cycle"},{"year":1966,"value":3.49,"series":"Equilibrium nodal cycle"},{"year":1967,"value":5.45,"series":"Equilibrium nodal cycle"},{"year":1968,"value":6.8,"series":"Equilibrium nodal cycle"},{"year":1969,"value":7.39,"series":"Equilibrium nodal cycle"},{"year":1970,"value":7.13,"series":"Equilibrium nodal cycle"},{"year":1971,"value":6.08,"series":"Equilibrium nodal cycle"},{"year":1972,"value":4.34,"series":"Equilibrium nodal cycle"},{"year":1973,"value":2.1,"series":"Equilibrium nodal cycle"},{"year":1974,"value":-0.37,"series":"Equilibrium nodal cycle"},{"year":1975,"value":-2.8,"series":"Equilibrium nodal cycle"},{"year":1976,"value":-4.91,"series":"Equilibrium nodal cycle"},{"year":1977,"value":-6.47,"series":"Equilibrium nodal cycle"},{"year":1978,"value":-7.29,"series":"Equilibrium nodal cycle"},{"year":1979,"value":-7.3,"series":"Equilibrium nodal cycle"},{"year":1980,"value":-6.48,"series":"Equilibrium nodal cycle"},{"year":1981,"value":-4.92,"series":"Equilibrium nodal cycle"},{"year":1982,"value":-2.82,"series":"Equilibrium nodal cycle"},{"year":1983,"value":-0.39,"series":"Equilibrium nodal cycle"},{"year":1984,"value":2.07,"series":"Equilibrium nodal cycle"},{"year":1985,"value":4.31,"series":"Equilibrium nodal cycle"},{"year":1986,"value":6.06,"series":"Equilibrium nodal cycle"},{"year":1987,"value":7.13,"series":"Equilibrium nodal cycle"},{"year":1988,"value":7.39,"series":"Equilibrium nodal cycle"},{"year":1989,"value":6.81,"series":"Equilibrium nodal cycle"},{"year":1990,"value":5.47,"series":"Equilibrium nodal cycle"},{"year":1991,"value":3.51,"series":"Equilibrium nodal cycle"},{"year":1992,"value":1.15,"series":"Equilibrium nodal cycle"},{"year":1993,"value":-1.33,"series":"Equilibrium nodal cycle"},{"year":1994,"value":-3.67,"series":"Equilibrium nodal cycle"},{"year":1995,"value":-5.59,"series":"Equilibrium nodal cycle"},{"year":1996,"value":-6.88,"series":"Equilibrium nodal cycle"},{"year":1997,"value":-7.39,"series":"Equilibrium nodal cycle"},{"year":1998,"value":-7.07,"series":"Equilibrium nodal cycle"},{"year":1999,"value":-5.95,"series":"Equilibrium nodal cycle"},{"year":2000,"value":-4.16,"series":"Equilibrium nodal cycle"},{"year":2001,"value":-1.89,"series":"Equilibrium nodal cycle"},{"year":2002,"value":0.58,"series":"Equilibrium nodal cycle"},{"year":2003,"value":2.99,"series":"Equilibrium nodal cycle"},{"year":2004,"value":5.06,"series":"Equilibrium nodal cycle"},{"year":2005,"value":6.56,"series":"Equilibrium nodal cycle"},{"year":2006,"value":7.33,"series":"Equilibrium nodal cycle"},{"year":2007,"value":7.26,"series":"Equilibrium nodal cycle"},{"year":2008,"value":6.37,"series":"Equilibrium nodal cycle"},{"year":2009,"value":4.77,"series":"Equilibrium nodal cycle"},{"year":2010,"value":2.62,"series":"Equilibrium nodal cycle"},{"year":2010.9,"value":0.44,"series":"Equilibrium nodal cycle"}
    ]
  }
}
